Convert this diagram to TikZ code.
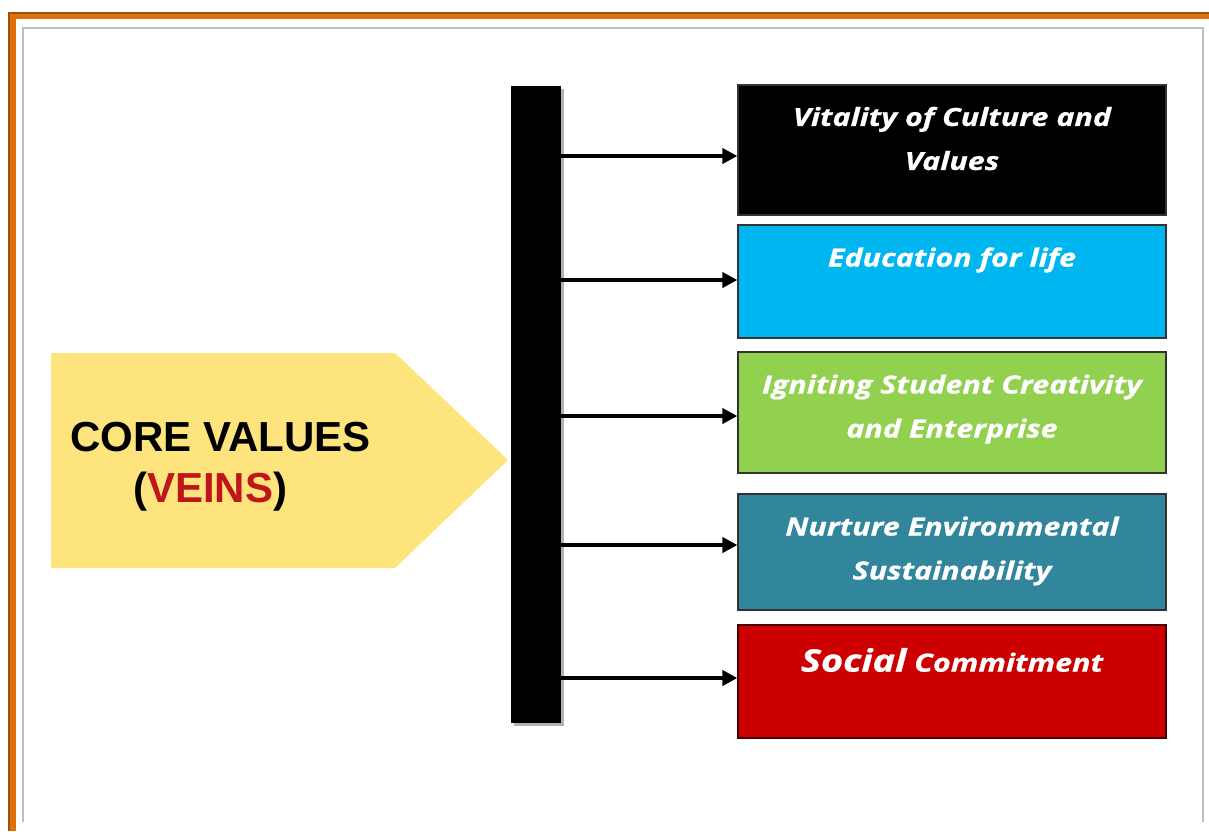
\documentclass[tikz,border=0pt]{standalone}
\usepackage{fontspec}
\newfontfamily\boxfont[FakeStretch=1.22,FakeBold=0.8]{Open Sans}
\newfontfamily\corefont{Liberation Sans}
\usetikzlibrary{arrows.meta}
\definecolor{frameorange}{RGB}{222,112,14}
\definecolor{framedark}{RGB}{160,80,10}
\definecolor{coreyellow}{RGB}{253,228,124}
\definecolor{veinsred}{RGB}{192,22,27}
\definecolor{edublue}{RGB}{0,182,240}
\definecolor{igngreen}{RGB}{146,208,80}
\definecolor{natteal}{RGB}{49,134,155}
\definecolor{socred}{RGB}{204,0,0}

\begin{document}
\begin{tikzpicture}[x=1pt, y=-1pt, >={Triangle[length=15pt,width=15pt]},
  valbox/.style={draw=black!80, line width=1.2pt, minimum width=428pt, inner sep=0pt},
  lbl/.style={text=white, font=\boxfont\bfseries\itshape\fontsize{25}{44}\selectfont, align=center},
  link/.style={->, line width=4pt}]
\useasboundingbox (0,0) rectangle (1209,831);
\fill[white] (0,0) rectangle (1209,831);
% frame
\draw[frameorange, line width=7pt] (12,831) -- (12,15.5) -- (1209,15.5);
\draw[framedark, line width=2pt] (9,831) -- (9,12.5) -- (1209,12.5);
\draw[black!25, line width=1.5pt] (23,822) -- (23,28) -- (1203,28) -- (1203,822);
% core values arrow
\fill[coreyellow] (51,353) -- (395,353) -- (508,460) -- (395,568) -- (51,568) -- cycle;
\node (core) at (70,467) [anchor=west, inner sep=0pt, font=\corefont\bfseries\fontsize{42}{51}\selectfont, align=left]
  {CORE VALUES\\\hspace*{63pt}(\textcolor{veinsred}{VEINS})};
% bar
\fill[black!30] (514,89) rectangle (564,726);
\node (bar) at (536,404.5) [fill=black, minimum width=50pt, minimum height=637pt, inner sep=0pt] {};
% boxes
\node (v1) at (952,150) [valbox, fill=black, minimum height=130pt] {};
\node (e1) at (952,281.5) [valbox, fill=edublue, minimum height=113pt] {};
\node (i1) at (952,412.5) [valbox, fill=igngreen, minimum height=121pt] {};
\node (n1) at (952,552) [valbox, fill=natteal, minimum height=116pt] {};
\node (s1) at (952,681.5) [valbox, draw=black!70!red, fill=socred, minimum height=113pt] {};
\node (v1t) at (952,138.5) [lbl] {Vitality of Culture and\\Values};
\node (e1t) at (952,260) [lbl] {Education for life};
\node (i1t) at (952,409) [lbl] {Igniting Student Creativity\\and Enterprise};
\node (n1t) at (952,551) [lbl] {Nurture Environmental\\Sustainability};
\node (s1t) at (952,660) [lbl] {{\fontsize{31}{44}\selectfont Social} Commitment};
% arrows
\draw[link] (bar.east |- 0,156) -- (v1.west |- 0,156);
\draw[link] (bar.east |- 0,280) -- (e1.west |- 0,280);
\draw[link] (bar.east |- 0,416) -- (i1.west |- 0,416);
\draw[link] (bar.east |- 0,545) -- (n1.west |- 0,545);
\draw[link] (bar.east |- 0,678) -- (s1.west |- 0,678);
\end{tikzpicture}
\end{document}
